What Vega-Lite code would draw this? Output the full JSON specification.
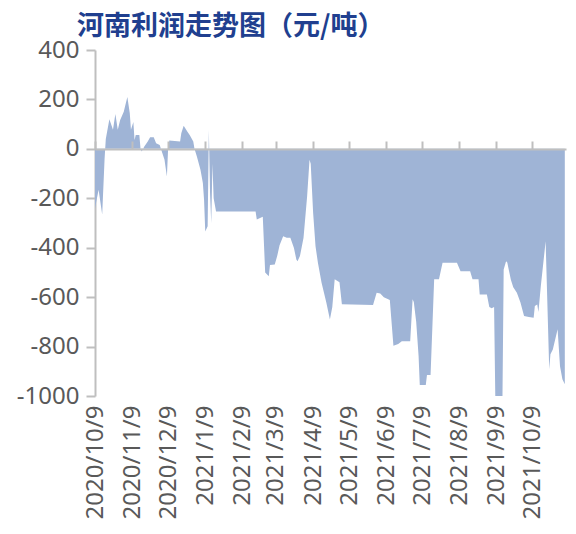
{
  "$schema": "https://vega.github.io/schema/vega-lite/v6.json",
  "width": 471,
  "height": 346,
  "autosize": {"type": "none"},
  "padding": {"left": 95, "top": 50, "right": 10, "bottom": 138},
  "background": "white",
  "title": {
    "text": "河南利润走势图（元/吨）",
    "anchor": "start",
    "frame": "group",
    "dx": -18,
    "dy": 13,
    "offset": 10,
    "fontSize": 27,
    "font": "Noto Sans CJK SC",
    "fontWeight": "bold",
    "color": "#203f8f"
  },
  "data": {
    "values": [
      {"date": "2020/10/09", "value": -240},
      {"date": "2020/10/12", "value": -165},
      {"date": "2020/10/15", "value": -266},
      {"date": "2020/10/17", "value": -40},
      {"date": "2020/10/18", "value": 40},
      {"date": "2020/10/21", "value": 120},
      {"date": "2020/10/24", "value": 77},
      {"date": "2020/10/26", "value": 141},
      {"date": "2020/10/28", "value": 77},
      {"date": "2020/10/30", "value": 117},
      {"date": "2020/11/02", "value": 150},
      {"date": "2020/11/03", "value": 170},
      {"date": "2020/11/05", "value": 210},
      {"date": "2020/11/07", "value": 145},
      {"date": "2020/11/08", "value": 77},
      {"date": "2020/11/10", "value": 109},
      {"date": "2020/11/11", "value": 36},
      {"date": "2020/11/12", "value": 56},
      {"date": "2020/11/15", "value": 56},
      {"date": "2020/11/16", "value": 0},
      {"date": "2020/11/17", "value": -11},
      {"date": "2020/11/19", "value": 9},
      {"date": "2020/11/22", "value": 30},
      {"date": "2020/11/24", "value": 47},
      {"date": "2020/11/27", "value": 47},
      {"date": "2020/11/29", "value": 23},
      {"date": "2020/12/02", "value": 16},
      {"date": "2020/12/03", "value": 0},
      {"date": "2020/12/06", "value": -44},
      {"date": "2020/12/08", "value": -112},
      {"date": "2020/12/09", "value": 0},
      {"date": "2020/12/10", "value": 34},
      {"date": "2020/12/19", "value": 30},
      {"date": "2020/12/20", "value": 63},
      {"date": "2020/12/22", "value": 93},
      {"date": "2020/12/25", "value": 70},
      {"date": "2020/12/27", "value": 56},
      {"date": "2020/12/30", "value": 30},
      {"date": "2020/12/31", "value": 0},
      {"date": "2021/01/02", "value": -31},
      {"date": "2021/01/05", "value": -85},
      {"date": "2021/01/07", "value": -138},
      {"date": "2021/01/08", "value": -206},
      {"date": "2021/01/09", "value": -334},
      {"date": "2021/01/11", "value": -313},
      {"date": "2021/01/12", "value": 77},
      {"date": "2021/01/13", "value": -180},
      {"date": "2021/01/14", "value": -300},
      {"date": "2021/01/15", "value": -60},
      {"date": "2021/01/16", "value": -200},
      {"date": "2021/01/18", "value": -253},
      {"date": "2021/02/20", "value": -253},
      {"date": "2021/02/21", "value": -286},
      {"date": "2021/02/26", "value": -275},
      {"date": "2021/02/28", "value": -500},
      {"date": "2021/03/03", "value": -515},
      {"date": "2021/03/04", "value": -470},
      {"date": "2021/03/08", "value": -468},
      {"date": "2021/03/10", "value": -434},
      {"date": "2021/03/12", "value": -390},
      {"date": "2021/03/15", "value": -354},
      {"date": "2021/03/18", "value": -360},
      {"date": "2021/03/21", "value": -360},
      {"date": "2021/03/24", "value": -401},
      {"date": "2021/03/26", "value": -448},
      {"date": "2021/03/27", "value": -455},
      {"date": "2021/03/29", "value": -434},
      {"date": "2021/04/01", "value": -360},
      {"date": "2021/04/04", "value": -192},
      {"date": "2021/04/06", "value": -44},
      {"date": "2021/04/07", "value": -60},
      {"date": "2021/04/09", "value": -259},
      {"date": "2021/04/11", "value": -394},
      {"date": "2021/04/13", "value": -461},
      {"date": "2021/04/16", "value": -541},
      {"date": "2021/04/20", "value": -622},
      {"date": "2021/04/23", "value": -690},
      {"date": "2021/04/25", "value": -640},
      {"date": "2021/04/27", "value": -528},
      {"date": "2021/05/01", "value": -540},
      {"date": "2021/05/03", "value": -629},
      {"date": "2021/05/29", "value": -632},
      {"date": "2021/06/01", "value": -582},
      {"date": "2021/06/04", "value": -585},
      {"date": "2021/06/07", "value": -600},
      {"date": "2021/06/12", "value": -612},
      {"date": "2021/06/15", "value": -797},
      {"date": "2021/06/19", "value": -790},
      {"date": "2021/06/22", "value": -778},
      {"date": "2021/06/29", "value": -778},
      {"date": "2021/07/01", "value": -609},
      {"date": "2021/07/02", "value": -620},
      {"date": "2021/07/04", "value": -700},
      {"date": "2021/07/06", "value": -838},
      {"date": "2021/07/07", "value": -955},
      {"date": "2021/07/12", "value": -955},
      {"date": "2021/07/13", "value": -915},
      {"date": "2021/07/16", "value": -915},
      {"date": "2021/07/19", "value": -528},
      {"date": "2021/07/23", "value": -528},
      {"date": "2021/07/26", "value": -461},
      {"date": "2021/08/07", "value": -461},
      {"date": "2021/08/10", "value": -495},
      {"date": "2021/08/18", "value": -495},
      {"date": "2021/08/20", "value": -528},
      {"date": "2021/08/25", "value": -528},
      {"date": "2021/08/26", "value": -589},
      {"date": "2021/09/01", "value": -589},
      {"date": "2021/09/03", "value": -640},
      {"date": "2021/09/05", "value": -645},
      {"date": "2021/09/07", "value": -640},
      {"date": "2021/09/08", "value": -1000},
      {"date": "2021/09/14", "value": -1000},
      {"date": "2021/09/15", "value": -488},
      {"date": "2021/09/17", "value": -455},
      {"date": "2021/09/18", "value": -460},
      {"date": "2021/09/21", "value": -530},
      {"date": "2021/09/23", "value": -560},
      {"date": "2021/09/26", "value": -582},
      {"date": "2021/09/29", "value": -622},
      {"date": "2021/10/02", "value": -676},
      {"date": "2021/10/06", "value": -680},
      {"date": "2021/10/10", "value": -683},
      {"date": "2021/10/11", "value": -636},
      {"date": "2021/10/13", "value": -630},
      {"date": "2021/10/14", "value": -660},
      {"date": "2021/10/16", "value": -555},
      {"date": "2021/10/20", "value": -374},
      {"date": "2021/10/23", "value": -892},
      {"date": "2021/10/24", "value": -831},
      {"date": "2021/10/26", "value": -812},
      {"date": "2021/10/30", "value": -730},
      {"date": "2021/11/01", "value": -880},
      {"date": "2021/11/03", "value": -932},
      {"date": "2021/11/05", "value": -952}
    ]
  },
  "layer": [
    {
      "mark": {"type": "area", "color": "#9fb4d6", "interpolate": "linear"},
      "encoding": {
        "x": {
          "field": "date",
          "type": "temporal",
          "scale": {"domain": [{"year": 2020, "month": 10, "date": 9}, {"year": 2021, "month": 11, "date": 6}]},
          "axis": {
            "orient": "bottom",
            "values": [
              {"year": 2020, "month": 10, "date": 9},
              {"year": 2020, "month": 11, "date": 9},
              {"year": 2020, "month": 12, "date": 9},
              {"year": 2021, "month": 1, "date": 9},
              {"year": 2021, "month": 2, "date": 9},
              {"year": 2021, "month": 3, "date": 9},
              {"year": 2021, "month": 4, "date": 9},
              {"year": 2021, "month": 5, "date": 9},
              {"year": 2021, "month": 6, "date": 9},
              {"year": 2021, "month": 7, "date": 9},
              {"year": 2021, "month": 8, "date": 9},
              {"year": 2021, "month": 9, "date": 9},
              {"year": 2021, "month": 10, "date": 9}
            ],
            "format": "%Y/%-m/%-d",
            "labelAngle": -90,
            "ticks": false,
            "domain": false,
            "grid": false,
            "labelFontSize": 24,
            "labelFont": "Noto Sans",
            "labelColor": "#595959",
            "labelPadding": 9,
            "labelOverlap": false,
            "labelBound": false,
            "labelFlush": false,
            "title": null
          }
        },
        "y": {
          "field": "value",
          "type": "quantitative",
          "scale": {"domain": [-1000, 400], "nice": false},
          "axis": {
            "values": [-1000, -800, -600, -400, -200, 0, 200, 400],
            "labelExpr": "datum.value + ''",
            "grid": false,
            "domainColor": "#bfbfbf",
            "domainWidth": 2,
            "tickColor": "#bfbfbf",
            "tickWidth": 2,
            "tickSize": 9,
            "labelFontSize": 24,
            "labelFont": "Noto Sans",
            "labelColor": "#595959",
            "labelPadding": 7,
            "title": null
          }
        },
        "y2": {"datum": 0}
      }
    },
    {
      "mark": {"type": "point", "opacity": 0},
      "encoding": {
        "x": {
          "field": "date",
          "type": "temporal",
          "axis": {
            "orient": "top",
            "offset": -99,
            "values": [
              {"year": 2020, "month": 10, "date": 9},
              {"year": 2020, "month": 11, "date": 9},
              {"year": 2020, "month": 12, "date": 9},
              {"year": 2021, "month": 1, "date": 9},
              {"year": 2021, "month": 2, "date": 9},
              {"year": 2021, "month": 3, "date": 9},
              {"year": 2021, "month": 4, "date": 9},
              {"year": 2021, "month": 5, "date": 9},
              {"year": 2021, "month": 6, "date": 9},
              {"year": 2021, "month": 7, "date": 9},
              {"year": 2021, "month": 8, "date": 9},
              {"year": 2021, "month": 9, "date": 9},
              {"year": 2021, "month": 10, "date": 9}
            ],
            "labels": false,
            "ticks": true,
            "tickSize": 8,
            "tickColor": "#bfbfbf",
            "tickWidth": 2,
            "domainColor": "#bfbfbf",
            "domainWidth": 2,
            "grid": false,
            "title": null,
            "zindex": 1
          }
        }
      }
    }
  ],
  "resolve": {"axis": {"x": "independent"}},
  "config": {"view": {"stroke": null}}
}
